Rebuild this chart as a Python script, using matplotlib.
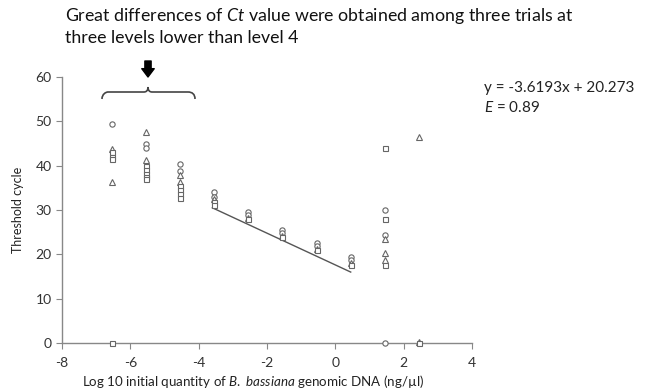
import matplotlib
matplotlib.use("Agg")
import matplotlib.pyplot as plt
from matplotlib.path import Path
from matplotlib.patches import PathPatch
from matplotlib.transforms import IdentityTransform

plt.rcParams['font.family'] = ['Lato', 'DejaVu Sans']
plt.rcParams['mathtext.fontset'] = 'custom'
plt.rcParams['mathtext.rm'] = 'Lato'
plt.rcParams['mathtext.it'] = 'Lato:italic'
plt.rcParams['axes.unicode_minus'] = False

# Data
circle_x = [-6.55, -5.55, -5.55, -4.55, -4.55, -3.55, -3.55, -2.55, -2.55, -1.55, -1.55,
            -0.55, -0.55, 0.45, 0.45, 1.45, 1.45, 1.45]
circle_y = [49.4, 45.0, 44.0, 40.3, 38.8, 34.0, 33.0, 29.5, 28.8, 25.5, 24.8,
            22.5, 21.8, 19.5, 18.8, 30.0, 24.4, 0.0]
tri_x = [-6.55, -6.55, -5.55, -5.55, -4.55, -4.55, -3.55, -2.55, -1.55, -0.55, 0.45,
         1.45, 1.45, 1.45, 2.45, 2.45]
tri_y = [43.8, 36.3, 47.5, 41.3, 38.0, 36.4, 32.5, 28.3, 24.2, 21.3, 18.0,
         23.5, 20.4, 18.7, 46.4, 0.3]
sq_x = [-6.55, -6.55, -6.55, -6.55, -5.55, -5.55, -5.55, -5.55, -5.55, -4.55, -4.55, -4.55,
        -4.55, -3.55, -3.55, -2.55, -1.55, -0.55, 0.45, 1.45, 1.45, 1.45, 2.45]
sq_y = [43.0, 42.0, 41.5, 0.0, 40.0, 39.0, 38.2, 37.5, 37.0, 35.5, 34.5, 33.5,
        32.8, 31.8, 31.2, 28.0, 23.8, 21.0, 17.5, 43.9, 28.0, 17.6, 0.0]
trend_x = [-3.6, 0.45]
trend_y = [30.5, 16.0]
xticks = [-8, -6, -4, -2, 0, 2, 4]
yticks = [0, 10, 20, 30, 40, 50, 60]

fig = plt.figure(figsize=(6.49, 3.92), dpi=100)
ax = fig.add_axes([62/649, 1-343/392, 410/649, 266/392])

ax.plot(trend_x, trend_y, color='#555555', lw=1.0, zorder=2)
mk = dict(linestyle='none', markerfacecolor='white', markeredgecolor='#666666',
          markeredgewidth=0.8, zorder=3, clip_on=False)
ax.plot(circle_x, circle_y, marker='o', markersize=3.8, **mk)
ax.plot(tri_x, tri_y, marker='^', markersize=4.2, **mk)
ax.plot(sq_x, sq_y, marker='s', markersize=3.6, **mk)

ax.set_xlim(-8, 4)
ax.set_ylim(0, 60)
ax.set_xticks(xticks)
ax.set_yticks(yticks)
for s in ['top', 'right']:
    ax.spines[s].set_visible(False)
for s in ['left', 'bottom']:
    ax.spines[s].set_color('#888888')
    ax.spines[s].set_linewidth(1.0)
ax.tick_params(axis='both', direction='out', length=4, color='#888888',
               labelsize=10, labelcolor='#333333')
ax.tick_params(axis='x', pad=6)

fig.text(18/649, 1-210/392, 'Threshold cycle', rotation=90, ha='center', va='center',
         fontsize=9, color='#222222')
fig.text(253/649, 1-381/392, 'Log 10 initial quantity of $\\it{B.}$ $\\it{bassiana}$ genomic DNA (ng/µl)',
         ha='center', va='center', fontsize=9.6, color='#222222')

fig.text(65/649, 1-16/392, 'Great differences of $\\it{Ct}$ value were obtained among three trials at',
         ha='left', va='center', fontsize=12.8, color='#111111')
fig.text(65/649, 1-38/392, 'three levels lower than level 4',
         ha='left', va='center', fontsize=12.8, color='#111111')

fig.text(484/649, 1-88/392, 'y = -3.6193x + 20.273', ha='left', va='center',
         fontsize=11, color='#222222')
fig.text(484/649, 1-108/392, '$\\it{E}$ = 0.89', ha='left', va='center',
         fontsize=11, color='#222222')

# bracket (figure pixel coords)
H = 392
verts = [(102, H-99), (102, H-94), (106, H-92), (108, H-92),
         (144, H-92), (148, H-92), (148, H-87),
         (148, H-92), (152, H-92), (188, H-92),
         (192, H-92), (195, H-94), (195, H-99)]
codes = [Path.MOVETO, Path.CURVE4, Path.CURVE4, Path.CURVE4,
         Path.LINETO, Path.CURVE3, Path.CURVE3,
         Path.CURVE3, Path.CURVE3, Path.LINETO,
         Path.CURVE4, Path.CURVE4, Path.CURVE4]
fig.add_artist(PathPatch(Path(verts, codes), facecolor='none', edgecolor='#444444',
                         lw=1.2, transform=IdentityTransform()))
ax.annotate('', xy=(148, H-77), xytext=(148, H-61), xycoords='figure pixels',
            textcoords='figure pixels',
            arrowprops=dict(arrowstyle='simple,head_width=0.9,head_length=0.6,tail_width=0.45',
                            color='black', shrinkA=0, shrinkB=0))

fig.savefig('out.png', dpi=100)
